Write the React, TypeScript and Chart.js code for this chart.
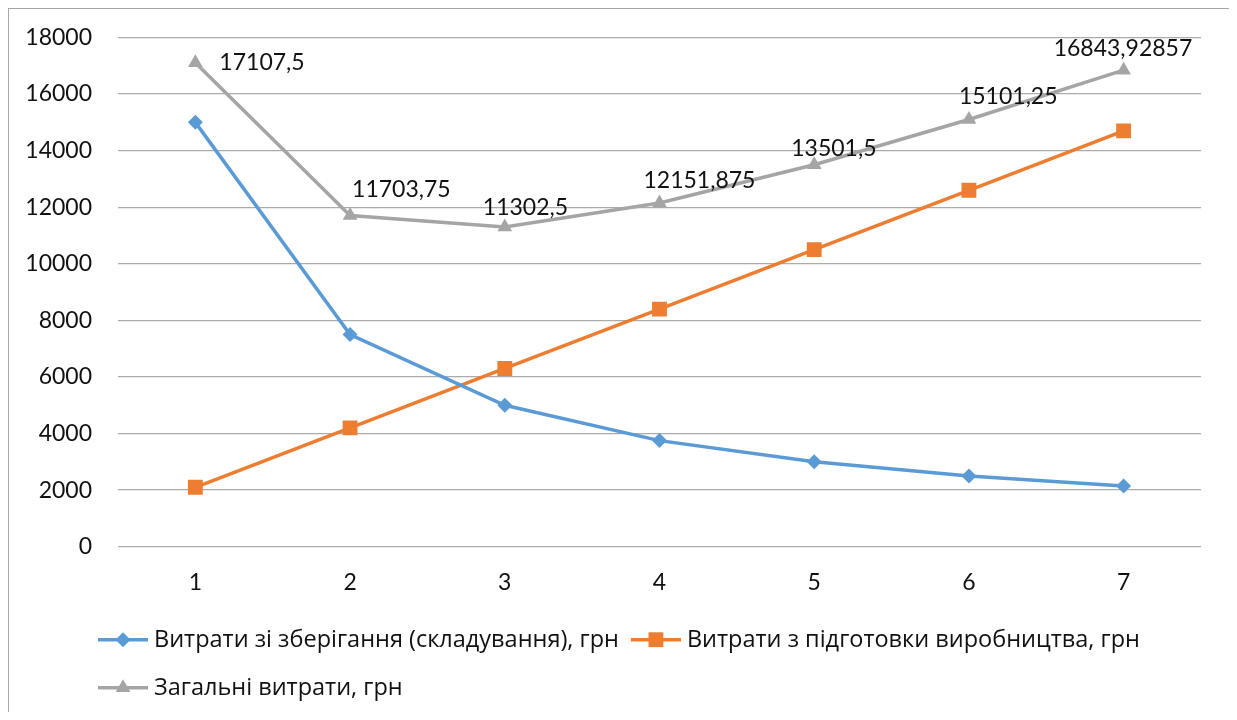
import React, { useEffect, useRef } from "react";
import { Chart, registerables } from "chart.js";
import { drawPoint } from "chart.js/helpers";

Chart.register(...registerables);

// ---- data ----
const categories = ["1", "2", "3", "4", "5", "6", "7"];
const storageCosts = [15000, 7500, 5000, 3750, 3000, 2500, 2142.857];
const setupCosts = [2100, 4200, 6300, 8400, 10500, 12600, 14700];
const totalCosts = [17107.5, 11703.75, 11302.5, 12151.875, 13501.5, 15101.25, 16843.92857];
const seriesNames = [
  "Витрати зі зберігання (складування), грн",
  "Витрати з підготовки виробництва, грн",
  "Загальні витрати, грн",
];
const yMin = 0;
const yMax = 18000;
const yStep = 2000;

// label placement tweaks for the total-cost data labels (dx, dy from point, text left edge / middle)
const totalLabelOffsets = [
  [24, 0],
  [2, -26],
  [-22, -19],
  [-16, -22],
  [-23, -16],
  [-10, -23],
  [-70, -22],
];

const FONT = "Lato, 'Open Sans', 'Noto Sans', sans-serif";
const LEGEND_FONT = "'Open Sans', 'Noto Sans', sans-serif";
const FONT_SIZE = 23;
const LEGEND_FONT_SIZE = 23.5;
const TEXT_COLOR = "#111111";
const BLUE = "#5B9BD5";
const ORANGE = "#ED7D31";
const GRAY = "#A5A5A5";

const fmt = (v: number) => String(v).replace(".", ",");

const dataLabelsPlugin = {
  id: "totalLabels",
  afterDatasetsDraw(chart: any) {
    const ctx = chart.ctx;
    const meta = chart.getDatasetMeta(2);
    if (!meta || meta.hidden) return;
    ctx.save();
    ctx.font = `${FONT_SIZE}px ${FONT}`;
    ctx.fillStyle = TEXT_COLOR;
    ctx.textAlign = "left";
    ctx.textBaseline = "middle";
    meta.data.forEach((pt: any, i: number) => {
      const [dx, dy] = totalLabelOffsets[i] || [0, -20];
      ctx.fillText(fmt(totalCosts[i]), pt.x + dx, pt.y + dy);
    });
    ctx.restore();
  },
};

const legendPlugin = {
  id: "excelLegend",
  afterDraw(chart: any) {
    const { ctx, chartArea } = chart;
    const ds = chart.data.datasets;
    const rows = [[0, 1], [2]];
    const lineW = 50;
    const gap = 6;
    const colGap = 12;
    const x0 = chartArea.left - 20;
    const y0 = chartArea.bottom + 93;
    const rowH = 48;
    ctx.save();
    ctx.font = `${LEGEND_FONT_SIZE}px ${LEGEND_FONT}`;
    ctx.textBaseline = "middle";
    ctx.textAlign = "left";
    const colX = [x0, x0 + lineW + gap + ctx.measureText(ds[0].label).width + colGap];
    rows.forEach((row, r) => {
      row.forEach((idx, c) => {
        const d = ds[idx];
        const x = colX[c];
        const y = y0 + r * rowH;
        ctx.strokeStyle = d.borderColor;
        ctx.lineWidth = 3.5;
        ctx.beginPath();
        ctx.moveTo(x, y);
        ctx.lineTo(x + lineW, y);
        ctx.stroke();
        ctx.fillStyle = d.backgroundColor;
        ctx.strokeStyle = d.borderColor;
        drawPoint(
          ctx,
          { pointStyle: d.pointStyle, radius: d.pointRadius, rotation: 0, borderWidth: 0 } as any,
          x + lineW / 2,
          y
        );
        ctx.fillStyle = TEXT_COLOR;
        ctx.fillText(d.label, x + lineW + gap, y + 1);
      });
    });
    ctx.restore();
  },
};

export default function App() {
  const canvasRef = useRef<HTMLCanvasElement | null>(null);

  useEffect(() => {
    if (!canvasRef.current) return;
    const chart = new Chart(canvasRef.current, {
      type: "line",
      data: {
        labels: categories,
        datasets: [
          {
            label: seriesNames[0],
            data: storageCosts,
            borderColor: BLUE,
            backgroundColor: BLUE,
            borderWidth: 3.5,
            pointStyle: "rectRot",
            pointRadius: 7.5,
            pointBorderWidth: 0,
            tension: 0,
          },
          {
            label: seriesNames[1],
            data: setupCosts,
            borderColor: ORANGE,
            backgroundColor: ORANGE,
            borderWidth: 3.5,
            pointStyle: "rect",
            pointRadius: 10.5,
            pointBorderWidth: 0,
            tension: 0,
          },
          {
            label: seriesNames[2],
            data: totalCosts,
            borderColor: GRAY,
            backgroundColor: GRAY,
            borderWidth: 3.5,
            pointStyle: "triangle",
            pointRadius: 8.5,
            pointBorderWidth: 0,
            tension: 0,
          },
        ],
      },
      options: {
        animation: false,
        responsive: true,
        maintainAspectRatio: false,
        layout: { padding: { top: 28.5, right: 30, bottom: 115.3, left: 0 } },
        plugins: {
          legend: { display: false },
          tooltip: { enabled: false },
        },
        scales: {
          x: {
            offset: true,
            grid: { display: false, drawTicks: false },
            border: { display: false },
            ticks: {
              padding: 22,
              color: TEXT_COLOR,
              font: { family: FONT, size: FONT_SIZE },
            },
            afterFit: (scale: any) => {
              scale.height = 50;
            },
          },
          y: {
            min: yMin,
            max: yMax,
            grid: { color: "#ababab", lineWidth: 1.3, drawTicks: false },
            border: { display: false },
            ticks: {
              stepSize: yStep,
              padding: 26,
              color: TEXT_COLOR,
              font: { family: FONT, size: FONT_SIZE },
              callback: (v: any) => String(v),
            },
            afterFit: (scale: any) => {
              scale.width = 109;
              scale.paddingTop = 0;
              scale.paddingBottom = 0;
            },
          },
        },
      },
      plugins: [dataLabelsPlugin, legendPlugin],
    });
    return () => chart.destroy();
  }, []);

  return (
    <div
      style={{
        width: 1224,
        height: 704,
        boxSizing: "border-box",
        borderTop: "1px solid #a6a6a6",
        borderLeft: "1px solid #a6a6a6",
        borderRight: "1px solid #a6a6a6",
        background: "#ffffff",
      }}
    >
      <div style={{ position: "relative", width: 1222, height: 703 }}>
        <canvas ref={canvasRef} />
      </div>
    </div>
  );
}
